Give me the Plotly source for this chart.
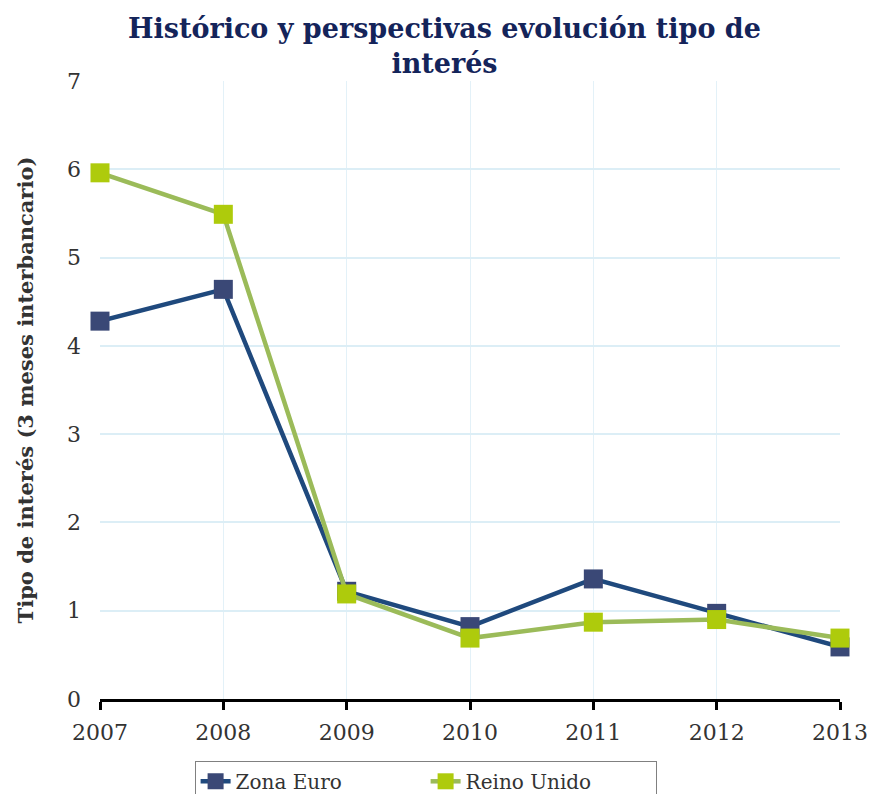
import plotly.graph_objects as go

years = [2007, 2008, 2009, 2010, 2011, 2012, 2013]
zona_euro = [4.28, 4.64, 1.22, 0.82, 1.36, 0.97, 0.59]
reino_unido = [5.96, 5.49, 1.19, 0.69, 0.87, 0.90, 0.69]
y_ticks = [0, 1, 2, 3, 4, 5, 6, 7]

SERIF = "Georgia, 'DejaVu Serif', 'Liberation Serif', serif"

fig = go.Figure()
fig.add_trace(go.Scatter(
    x=years, y=zona_euro, name="Zona Euro", mode="lines+markers",
    line=dict(color="#1F497D", width=4.5),
    marker=dict(symbol="square", size=19, color="#3A4876"),
    cliponaxis=False,
))
fig.add_trace(go.Scatter(
    x=years, y=reino_unido, name="Reino Unido", mode="lines+markers",
    line=dict(color="#9BBB59", width=4.5),
    marker=dict(symbol="square", size=19, color="#AECB0C"),
    cliponaxis=False,
))

fig.add_annotation(
    text="<b>Histórico y perspectivas evolución tipo de<br>interés</b>",
    xref="paper", yref="paper", x=0.465, y=1.113,
    xanchor="center", yanchor="top", showarrow=False,
    font=dict(family=SERIF, size=27, color="#14245A"),
)

fig.update_layout(
    width=872, height=794,
    paper_bgcolor="white", plot_bgcolor="white",
    margin=dict(l=100, r=32, t=81, b=95, autoexpand=False),
    font=dict(family=SERIF, size=20, color="#333333"),
    legend=dict(
        orientation="h", x=0.44, xanchor="center", y=-0.100, yanchor="top",
        bordercolor="#808080", borderwidth=1, bgcolor="white",
        font=dict(family=SERIF, size=20, color="#333333"),
        entrywidth=185, tracegroupgap=0,
    ),
    showlegend=True,
)
fig.update_xaxes(
    range=[2007, 2013], tickmode="array", tickvals=years,
    ticktext=[str(y) for y in years], automargin=False,
    showgrid=True, gridcolor="#E3F1F8", gridwidth=1,
    showline=True, linecolor="black", linewidth=3,
    ticks="outside", ticklen=8, tickwidth=3, tickcolor="black",
    ticklabelstandoff=4,
    tickfont=dict(family=SERIF, size=22, color="#333333"),
    zeroline=False,
)
fig.update_yaxes(
    range=[0, 7], tickmode="array", tickvals=y_ticks, automargin=False,
    showgrid=True, gridcolor="#DCEEF6", gridwidth=2,
    showline=False, zeroline=False, ticks="", ticklabelstandoff=18,
    tickfont=dict(family=SERIF, size=22, color="#333333"),
    title=dict(text="<b>Tipo de interés (3 meses interbancario)</b>", standoff=27,
               font=dict(family=SERIF, size=21, color="#333333")),
)

fig.write_html(
    "out.html",
    config={"displayModeBar": False},
    post_script="document.body.style.margin='0';document.body.style.overflow='hidden';",
)
